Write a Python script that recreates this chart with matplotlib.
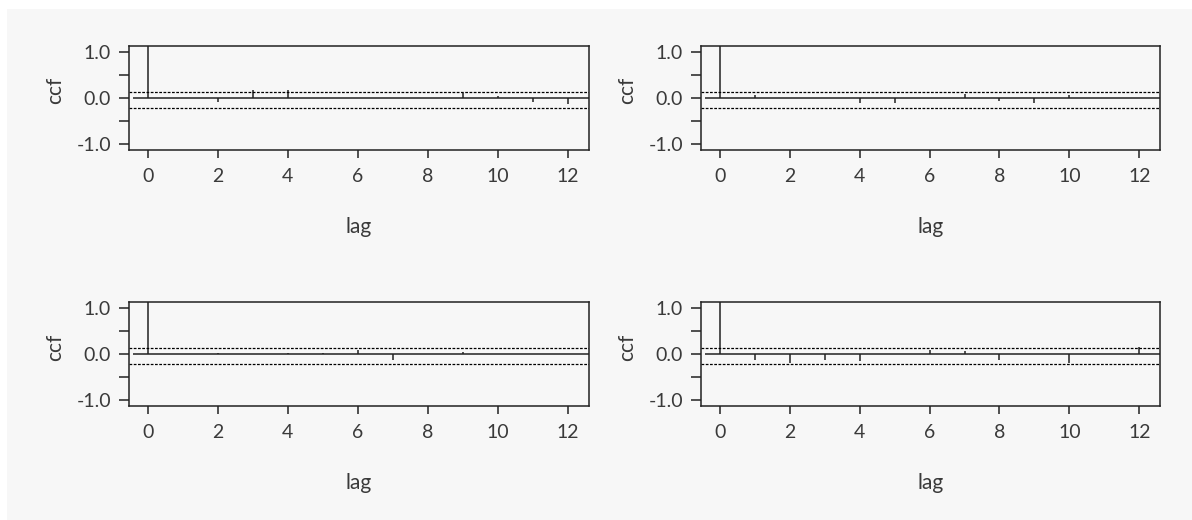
import matplotlib
matplotlib.use("Agg")
import matplotlib.pyplot as plt
from matplotlib.patches import Rectangle

# Cross-correlation estimates by lag for the four series pairs
lags = list(range(13))
ccf_a = [1.13, 0.0, -0.09, 0.17, 0.17, 0.0, 0.0, 0.0, 0.0, 0.10, 0.05, -0.09, -0.12]
ccf_b = [1.13, 0.06, 0.0, 0.0, -0.11, -0.11, 0.0, 0.09, -0.06, -0.11, 0.06, 0.0, 0.0]
ccf_c = [1.13, 0.0, 0.03, 0.0, 0.02, 0.03, 0.08, -0.13, 0.0, 0.04, 0.0, 0.0, 0.0]
ccf_d = [1.13, -0.12, -0.20, -0.13, -0.14, 0.0, 0.08, 0.06, -0.12, 0.0, -0.19, 0.0, 0.15]

# Approximate significance bounds
upper_bound = 0.135
lower_bound = -0.21

xticks = [0, 2, 4, 6, 8, 10, 12]
yticks = [-1.0, -0.5, 0.0, 0.5, 1.0]
ytick_labels = ["-1.0", "", "0.0", "", "1.0"]

plt.rcParams["font.family"] = ["Lato", "DejaVu Sans"]

W, H = 1192, 520
fig = plt.figure(figsize=(W / 100, H / 100), dpi=100)
fig.patch.set_facecolor("white")
fig.patches.append(Rectangle((7 / W, 0), 1 - 7 / W, 1 - 9 / H,
                             transform=fig.transFigure, facecolor="#f7f7f7",
                             edgecolor="none", zorder=-10))

text_color = "#3a3a3a"
line_color = "#222222"
fs = 14
fs_title = 15

# axes boxes in pixel coordinates: (left, top, right, bottom)
boxes = [
    (129.3, 45.7, 588.7, 150.0),
    (701.3, 45.7, 1160.3, 150.0),
    (129.3, 302.0, 588.7, 406.0),
    (701.3, 302.0, 1160.3, 406.0),
]
series = [ccf_a, ccf_b, ccf_c, ccf_d]

for (l, t, r, b), vals in zip(boxes, series):
    h = b - t
    ax = fig.add_axes([l / W, 1 - b / H, (r - l) / W, h / H])
    ax.set_facecolor("none")
    ax.set_xlim(-0.53, 12.6)
    ax.set_ylim(-1.12, 1.125)

    ax.vlines(lags, 0, vals, colors=line_color, linewidth=1.1)
    ax.hlines(0, -0.42, 12.6, colors=line_color, linewidth=1.1)
    for yb in (upper_bound, lower_bound):
        ax.axhline(yb, color="black", linewidth=0.9, linestyle=(0, (2.2, 1.2)))

    for s in ax.spines.values():
        s.set_color(line_color)
        s.set_linewidth(1.1)

    ax.set_xticks(xticks)
    ax.set_xticklabels([str(v) for v in xticks])
    ax.set_yticks(yticks)
    ax.set_yticklabels(ytick_labels)
    ax.tick_params(axis="x", length=6, width=1.1, color=line_color,
                   labelsize=fs, labelcolor=text_color, pad=7)
    ax.tick_params(axis="y", length=7.2, width=1.1, color=line_color,
                   labelsize=fs, labelcolor=text_color, pad=6)

    # axis titles placed relative to the box edges
    ax.text(0.5, -76.7 / h, "lag", transform=ax.transAxes,
            ha="center", va="center", fontsize=fs_title, color=text_color)
    ax.text(-74.3 / (r - l), (h - 45) / h, "ccf", transform=ax.transAxes,
            rotation=90, ha="center", va="center", fontsize=fs_title,
            color=text_color)

fig.savefig("out.png", dpi=100, facecolor=fig.get_facecolor())
